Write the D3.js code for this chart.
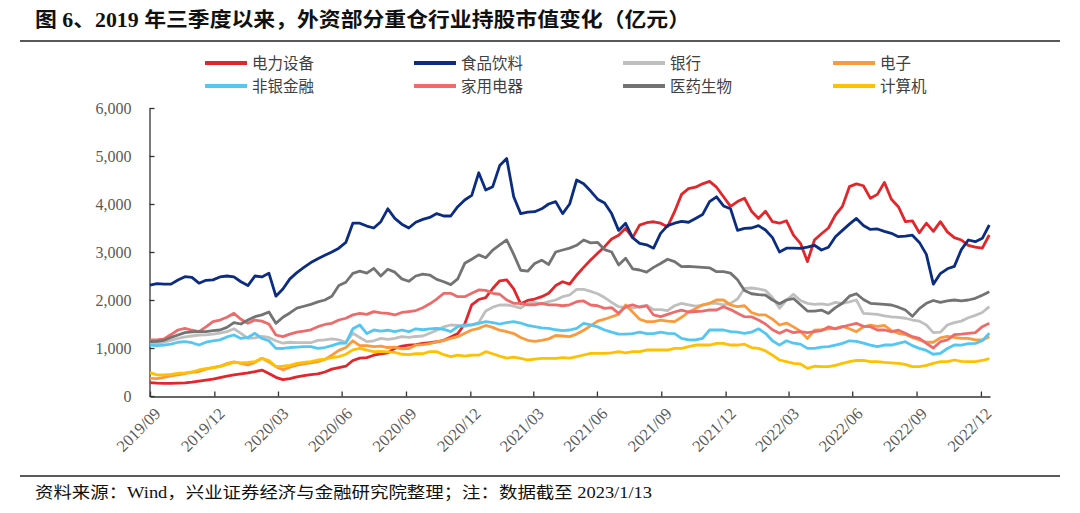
<!DOCTYPE html>
<html><head><meta charset="utf-8">
<script src="https://cdn.jsdelivr.net/npm/d3@7/dist/d3.min.js"></script>
<style>
body{margin:0;background:#fff;}
svg{display:block;}
</style></head>
<body>
<svg id="chart" width="1080" height="513"></svg>
<script>
// ---- DATA ----
const categories = ["电力设备","食品饮料","银行","电子","非银金融","家用电器","医药生物","计算机"];
const tickLabels = ["2019/09","2019/12","2020/03","2020/06","2020/09","2020/12","2021/03","2021/06","2021/09","2021/12","2022/03","2022/06","2022/09","2022/12"];
const yTicks = [0,1000,2000,3000,4000,5000,6000];
const startDate = "2019-09-30";
const endDate = "2023-01-13";
const stepDays = 10; // one sample every 10 calendar days

const dianliShebei = [280,270,265,265,270,275,290,310,330,350,385,415,440,460,480,507,540,470,389,340,360,400,425,445,460,500,560,590,620,740,790,800,850,880,900,993,1040,1062,1070,1095,1110,1130,1160,1230,1300,1500,1900,2010,2050,2240,2400,2420,2230,1920,1990,2020,2069,2140,2300,2380,2330,2520,2680,2833,2972,3111,3270,3350,3493,3300,3560,3610,3630,3600,3528,3840,4200,4320,4350,4420,4470,4350,4150,3950,4050,4120,3850,3700,3850,3632,3600,3650,3350,3180,2800,3250,3380,3500,3771,3950,4361,4420,4380,4118,4200,4450,4100,3944,3632,3650,3400,3600,3430,3632,3420,3300,3250,3140,3100,3080,3354];
const shipinYinliao = [2312,2340,2330,2330,2417,2486,2470,2350,2410,2420,2480,2500,2480,2380,2300,2500,2480,2560,2080,2230,2440,2570,2680,2780,2860,2930,3000,3080,3200,3600,3600,3540,3500,3632,3900,3700,3580,3500,3620,3680,3720,3800,3750,3750,3944,4083,4180,4650,4292,4361,4800,4950,4150,3800,3830,3840,3900,4000,4050,3800,4000,4500,4420,4270,4100,4020,3800,3450,3597,3300,3181,3150,3080,3389,3550,3600,3640,3620,3700,3780,4050,4150,3960,3900,3450,3493,3500,3550,3458,3300,3000,3080,3080,3076,3100,3140,3042,3100,3319,3450,3580,3700,3550,3470,3480,3430,3390,3320,3330,3350,3200,2950,2330,2550,2650,2700,3050,3250,3215,3285,3562];
const yinhang = [1097,1100,1120,1160,1201,1230,1250,1271,1275,1290,1310,1340,1400,1306,1201,1210,1240,1220,1150,1100,1120,1110,1110,1110,1160,1170,1190,1170,1120,1306,1220,1132,1150,1201,1180,1200,1236,1220,1240,1250,1306,1370,1440,1479,1470,1450,1480,1530,1770,1850,1896,1900,1870,1830,1931,1950,1920,1965,2000,2069,2104,2220,2220,2180,2130,2050,1950,1860,1840,1830,1860,1890,1800,1800,1780,1880,1931,1900,1870,1890,1931,1931,1900,1930,2020,2243,2250,2230,2200,2050,1826,2000,2120,1990,1930,1910,1920,1900,1950,1931,1960,2000,1722,1710,1700,1670,1650,1640,1620,1583,1560,1480,1320,1330,1480,1530,1560,1630,1680,1740,1861];
const dianzi = [368,360,390,420,438,465,490,510,560,590,620,675,710,680,646,700,785,710,611,545,600,645,670,690,715,760,850,950,1010,1150,1050,1050,1030,1040,1010,1020,980,990,1060,1070,1090,1130,1160,1201,1236,1306,1375,1410,1470,1430,1370,1340,1300,1220,1160,1140,1160,1190,1260,1250,1236,1290,1370,1460,1560,1600,1650,1700,1896,1750,1600,1550,1550,1583,1560,1549,1640,1750,1820,1900,1931,2000,2000,1896,1861,1880,1740,1690,1690,1600,1479,1520,1440,1350,1200,1370,1380,1400,1410,1450,1400,1340,1440,1479,1450,1470,1360,1306,1280,1220,1167,1120,1120,1210,1240,1220,1201,1200,1170,1167,1236];
const feiyinJinrong = [1062,1050,1062,1080,1120,1132,1110,1062,1120,1150,1170,1230,1271,1200,1220,1306,1201,1150,993,990,1010,1020,1030,1030,993,1010,1050,1097,1100,1400,1479,1300,1375,1350,1370,1340,1375,1340,1400,1380,1400,1410,1390,1340,1444,1479,1480,1514,1549,1530,1500,1530,1549,1520,1470,1444,1420,1410,1380,1360,1375,1410,1514,1480,1440,1375,1330,1290,1290,1300,1330,1300,1300,1330,1306,1300,1201,1170,1167,1200,1375,1375,1375,1340,1330,1306,1330,1400,1306,1150,1060,1150,1100,1080,993,993,1020,1028,1060,1097,1150,1140,1100,1062,1028,1062,1062,1097,1132,1050,993,950,870,889,990,1062,1060,1090,1097,1150,1306];
const jiayongDianqi = [1167,1170,1190,1280,1375,1410,1370,1340,1440,1549,1583,1640,1722,1600,1514,1583,1560,1500,1271,1236,1290,1330,1350,1380,1444,1490,1514,1583,1620,1690,1720,1700,1757,1730,1720,1688,1740,1760,1780,1840,1920,2020,2139,2140,2069,2069,2139,2210,2200,2139,2120,2000,1931,1931,1900,1900,1931,1900,1900,1880,1900,1965,1980,1896,1880,1826,1840,1722,1861,1900,1850,1880,1688,1653,1700,1750,1790,1750,1760,1770,1792,1792,1861,1800,1722,1653,1650,1583,1500,1380,1306,1375,1320,1340,1320,1340,1360,1440,1400,1440,1479,1514,1450,1444,1375,1375,1340,1370,1306,1236,1200,1097,1000,1132,1167,1280,1290,1306,1320,1444,1514];
const yiyaoShengwu = [1132,1140,1160,1220,1271,1320,1335,1340,1340,1360,1375,1430,1530,1500,1583,1653,1690,1750,1514,1640,1730,1830,1870,1910,1960,2000,2080,2300,2370,2556,2600,2560,2660,2500,2640,2580,2440,2390,2500,2540,2520,2430,2380,2320,2440,2764,2850,2940,2880,3040,3150,3250,2950,2620,2600,2760,2830,2740,3000,3042,3080,3140,3250,3190,3200,3050,3000,2730,2868,2650,2625,2580,2680,2760,2850,2800,2694,2700,2690,2680,2670,2590,2590,2560,2420,2200,2130,2110,2100,2000,1920,2000,2030,1900,1770,1770,1790,1720,1840,1931,2080,2130,2010,1931,1920,1910,1896,1850,1792,1660,1820,1931,1990,1950,1980,2000,1980,2000,2035,2100,2174];
const jisuanji = [486,440,438,450,472,480,500,542,570,590,611,660,700,690,700,715,785,740,611,620,640,681,700,715,750,770,800,819,870,960,990,958,924,930,920,910,870,860,880,880,924,924,860,819,850,830,850,850,924,880,830,790,810,785,750,770,785,785,785,800,790,819,854,889,890,889,900,924,900,924,924,958,958,958,958,993,993,1028,1062,1062,1062,1097,1097,1062,1062,1080,1010,993,940,850,750,715,681,670,576,620,611,611,640,681,715,740,740,715,715,700,690,680,660,611,611,640,681,715,715,750,720,715,715,740,780];

const seriesValues = [dianliShebei, shipinYinliao, yinhang, dianzi, feiyinJinrong, jiayongDianqi, yiyaoShengwu, jisuanji];
const colors = ["#E3262A","#0B2C80","#BFBFBF","#FA9A3C","#54C6F2","#EE6B6B","#737373","#FFC000"];

// ---- CHART ----
const svg = d3.select("#chart");
const serifFont = "'Liberation Serif','Times New Roman',serif";
const cjkFont = "'Liberation Serif','Noto Sans CJK SC',serif";

// title
svg.append("text").attr("x",35).attr("y",27)
  .attr("font-family",cjkFont).attr("font-weight","bold").attr("font-size",20)
  .attr("fill","#111").attr("textLength",655).attr("lengthAdjust","spacingAndGlyphs")
  .text("图 6、2019 年三季度以来，外资部分重仓行业持股市值变化（亿元）");
svg.append("line").attr("x1",20).attr("x2",1060).attr("y1",41).attr("y2",41)
  .attr("stroke","#222").attr("stroke-width",1.5);
// footer
svg.append("line").attr("x1",20).attr("x2",1060).attr("y1",476).attr("y2",476)
  .attr("stroke","#222").attr("stroke-width",1.5);
svg.append("text").attr("x",35).attr("y",498)
  .attr("font-family",cjkFont).attr("font-size",16)
  .attr("fill","#111").attr("textLength",617).attr("lengthAdjust","spacingAndGlyphs")
  .text("资料来源：Wind，兴业证券经济与金融研究院整理；注：数据截至 2023/1/13");

const parse = d3.timeParse("%Y-%m-%d");
const t0 = parse(startDate), t1 = parse(endDate);
const x = d3.scaleTime().domain([t0, t1]).range([150, 990]);
const y = d3.scaleLinear().domain([0, 6000]).range([396, 108]);

const tickDates = tickLabels.map(s => { const [yy, mm] = s.split("/").map(Number); return new Date(yy, mm, 0); });

// y axis
const yAxis = svg.append("g").attr("transform","translate(149.5,0)")
  .call(d3.axisLeft(y).tickValues(yTicks).tickFormat(d3.format(",")).tickSizeInner(-5).tickSizeOuter(0).tickPadding(18));
yAxis.selectAll("path,line").attr("stroke","#333").attr("stroke-width",1.3);
yAxis.selectAll("text").attr("font-family",serifFont).attr("font-size",16).attr("fill","#595959");

// x axis
const xAxis = svg.append("g").attr("transform","translate(0,396.5)")
  .call(d3.axisBottom(x).tickValues(tickDates).tickFormat((d,i)=>tickLabels[i]).tickSizeInner(-5).tickSizeOuter(0));
xAxis.selectAll("path,line").attr("stroke","#333").attr("stroke-width",1.3);
xAxis.selectAll("text")
  .attr("font-family",serifFont).attr("font-size",16.5).attr("fill","#595959")
  .attr("text-anchor","end").attr("dy","0.35em").attr("y",0)
  .attr("transform","translate(7,14) rotate(-45)");

// lines
const line = d3.line().x(d=>x(d.date)).y(d=>y(d.value)).curve(d3.curveLinear);
seriesValues.forEach((vals, k) => {
  const pts = vals.map((v,i)=>({date:d3.timeDay.offset(t0, i*stepDays), value:v}))
    .filter(p => p.date <= t1);
  svg.append("path").datum(pts).attr("d",line)
    .attr("fill","none").attr("stroke",colors[k]).attr("stroke-width",2.8)
    .attr("stroke-linejoin","round");
});

// legend
const legX = [205, 414, 623, 833];
const legY = [63, 86];
categories.forEach((c, k) => {
  const col = k % 4, row = Math.floor(k / 4);
  const g = svg.append("g").attr("transform",`translate(${legX[col]},${legY[row]})`);
  g.append("line").attr("x1",0).attr("x2",42).attr("y1",0).attr("y2",0)
    .attr("stroke",colors[k]).attr("stroke-width",4);
  g.append("text").attr("x",47).attr("y",0).attr("dy","0.36em")
    .attr("font-family","'Noto Sans CJK SC',sans-serif").attr("font-size",15.5).attr("fill","#404040")
    .text(c);
});
</script>
</body></html>
